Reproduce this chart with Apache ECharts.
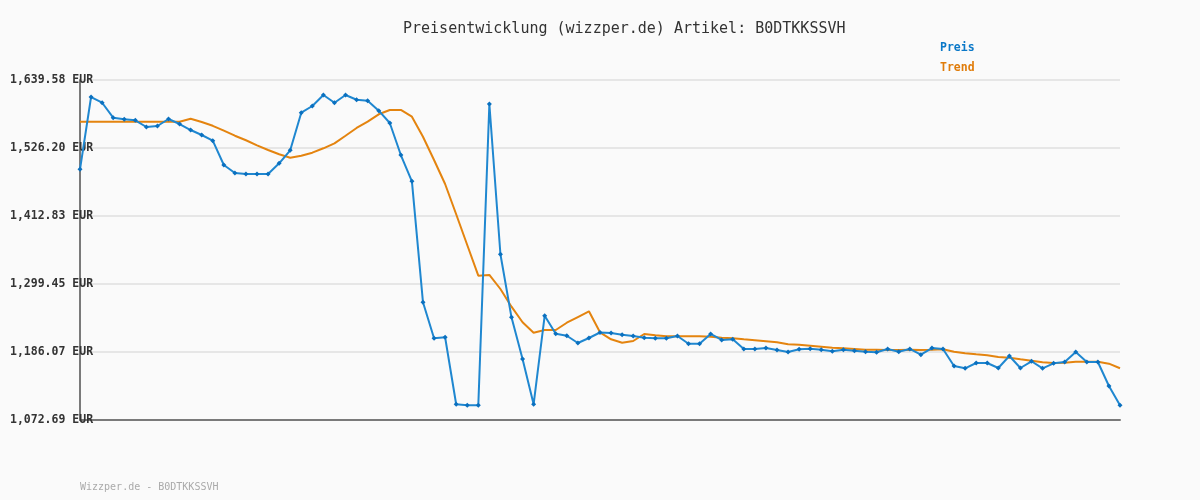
<!DOCTYPE html>
<html>
<head>
<meta charset="utf-8">
<script src="https://cdn.jsdelivr.net/npm/echarts@6/dist/echarts.min.js"></script>
<style>html,body{margin:0;padding:0;background:#fafafa;}#c{width:1200px;height:500px;}</style>
</head>
<body>
<div id="c"></div>
<script>
const titleText = 'Preisentwicklung (wizzper.de) Artikel: B0DTKKSSVH';
const footerText = 'Wizzper.de - B0DTKKSSVH';
const seriesNames = ['Preis', 'Trend'];
const tickValues = [1072.69, 1186.07, 1299.45, 1412.83, 1526.20, 1639.58];
const tickLabels = ['1,072.69 EUR', '1,186.07 EUR', '1,299.45 EUR', '1,412.83 EUR', '1,526.20 EUR', '1,639.58 EUR'];

const preis = [
  1490.7, 1611.2, 1601.7, 1576.7, 1574.1, 1572.4, 1561.2, 1562.9, 1574.6, 1566.2,
  1556.2, 1547.9, 1538.4, 1497.9, 1484.5, 1482.9, 1482.9, 1482.9, 1500.7, 1522.4,
  1585.1, 1596.2, 1614.6, 1601.7, 1614.6, 1606.7, 1605.1, 1588.4, 1567.9, 1514.5,
  1470.7, 1268.9, 1208.9, 1210.6, 1098.9, 1097.2, 1097.2, 1599.6, 1349.0, 1243.9,
  1174.4, 1098.9, 1246.6, 1216.6, 1213.2, 1201.1, 1209.4, 1218.6, 1217.7, 1214.9,
  1212.7, 1209.9, 1208.9, 1208.9, 1212.7, 1199.9, 1199.9, 1216.1, 1206.1, 1207.2,
  1191.1, 1191.1, 1192.7, 1189.4, 1186.1, 1190.6, 1191.6, 1189.9, 1187.2, 1189.9,
  1188.2, 1186.6, 1185.6, 1191.1, 1186.6, 1191.1, 1181.6, 1192.7, 1191.1, 1162.7,
  1158.9, 1167.7, 1167.7, 1159.4, 1179.4, 1159.4, 1170.6, 1158.9, 1167.2, 1169.4,
  1186.1, 1169.4, 1169.4, 1129.4, 1097.2
];
const trend = [
  1570.1, 1570.1, 1570.1, 1570.1, 1570.1, 1570.1, 1570.1, 1570.1, 1570.1, 1570.1,
  1575.1, 1569.6, 1563.2, 1555.1, 1546.7, 1539.1, 1530.7, 1522.9, 1515.7, 1510.0,
  1513.4, 1518.4, 1525.7, 1534.0, 1546.7, 1559.6, 1570.1, 1582.4, 1589.6, 1589.6,
  1578.4, 1545.0, 1506.2, 1466.2, 1415.7, 1364.5, 1313.3, 1314.5, 1291.1, 1261.6,
  1235.6, 1218.3, 1222.8, 1222.8, 1234.9, 1244.4, 1253.9, 1218.9, 1207.2, 1201.6,
  1204.4, 1216.1, 1213.9, 1212.2, 1212.2, 1212.2, 1212.2, 1211.6, 1209.9, 1208.9,
  1207.2, 1205.6, 1203.9, 1202.2, 1198.9, 1198.2, 1196.6, 1194.9, 1193.2, 1192.2,
  1191.1, 1189.9, 1189.9, 1189.4, 1189.4, 1189.9, 1189.4, 1189.9, 1190.6, 1186.6,
  1183.9, 1182.2, 1180.6, 1177.7, 1176.6, 1173.9, 1171.6, 1168.9, 1167.7, 1168.2,
  1169.9, 1169.9, 1169.9, 1166.6, 1158.9
];
const categories = preis.map((_, i) => String(i + 1));

const mono = 'DejaVu Sans Mono';
const blue = '#1f87d0';
const blueMark = '#0a70bf';
const orange = '#e4840f';

const chart = echarts.init(document.getElementById('c'), null, { renderer: 'canvas' });
chart.setOption({
  backgroundColor: '#fafafa',
  animation: false,
  title: {
    text: titleText,
    left: 398,
    top: 17,
    textStyle: { fontFamily: mono, fontSize: 15, fontWeight: 'normal', color: '#333' }
  },
  legend: {
    orient: 'vertical',
    left: 929,
    top: 37,
    itemWidth: 0,
    itemHeight: 0,
    itemGap: 8,
    selectedMode: false,
    data: [
      { name: seriesNames[0], textStyle: { color: '#0a78c8' } },
      { name: seriesNames[1], textStyle: { color: '#e07c0a' } }
    ],
    textStyle: { fontFamily: mono, fontSize: 11.5, fontWeight: 'bold' }
  },
  graphic: [{
    type: 'text',
    left: 80,
    top: 482,
    style: { text: footerText, fontFamily: mono, fontSize: 10, fill: '#aaaaaa' }
  }],
  grid: { left: 80, right: 80, top: 80, bottom: 80, containLabel: false },
  xAxis: {
    type: 'category',
    data: categories,
    boundaryGap: false,
    axisLine: { show: true, lineStyle: { color: '#7a7a7a', width: 2 } },
    axisTick: { show: false },
    axisLabel: { show: false },
    splitLine: { show: false }
  },
  yAxis: {
    type: 'value',
    min: tickValues[0],
    max: tickValues[tickValues.length - 1],
    axisLine: { show: true, lineStyle: { color: '#7a7a7a', width: 2 } },
    axisTick: { show: false, customValues: tickValues },
    axisLabel: {
      customValues: tickValues,
      align: 'left',
      margin: 70,
      fontFamily: mono,
      fontSize: 11.5,
      fontWeight: 'bold',
      color: '#333',
      formatter: (v) => {
        let best = 0;
        for (let i = 1; i < tickValues.length; i++) {
          if (Math.abs(tickValues[i] - v) < Math.abs(tickValues[best] - v)) best = i;
        }
        return tickLabels[best];
      }
    },
    splitLine: { show: true, lineStyle: { color: '#e6e6e6', width: 2 } }
  },
  series: [
    {
      name: seriesNames[0],
      type: 'line',
      data: preis,
      color: blue,
      symbol: 'diamond',
      symbolSize: 5,
      showAllSymbol: true,
      lineStyle: { color: blue, width: 2 },
      itemStyle: { color: blueMark },
      z: 3
    },
    {
      name: seriesNames[1],
      type: 'line',
      data: trend,
      color: orange,
      symbol: 'none',
      lineStyle: { color: orange, width: 2 },
      z: 2
    }
  ]
});
</script>
</body>
</html>
